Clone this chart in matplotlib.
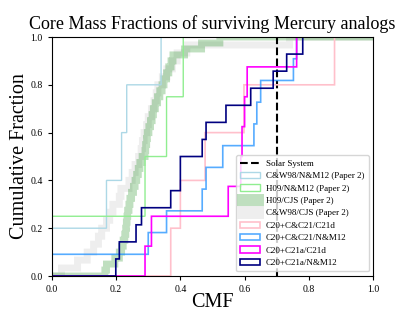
import numpy as np
import matplotlib
matplotlib.use("Agg")
import matplotlib.pyplot as plt

plt.rcParams['font.family'] = 'serif'
plt.rcParams['font.serif'] = ['Liberation Serif', 'DejaVu Serif']

# core mass fractions of surviving Mercury analogs
cw98_nm12 = [0.0, 0.17, 0.217, 0.233, 0.34]
h09_nm12 = [0.0, 0.29, 0.357, 0.41]
h09_cjs = [0.165, 0.170, 0.196, 0.210, 0.217, 0.222, 0.227, 0.230, 0.232, 0.234,
           0.237, 0.240, 0.243, 0.248, 0.254, 0.259, 0.264, 0.269, 0.274, 0.282,
           0.290, 0.292, 0.295, 0.297, 0.302, 0.307, 0.312, 0.316, 0.322, 0.329,
           0.336, 0.343, 0.350, 0.357, 0.364, 0.371, 0.377, 0.414, 0.466, 0.523]
cw98_cjs = [0.03, 0.08, 0.11, 0.13, 0.145, 0.155, 0.17, 0.18, 0.19, 0.21,
            0.215, 0.24, 0.25, 0.259, 0.27, 0.278, 0.283, 0.288, 0.295, 0.30,
            0.31, 0.318, 0.325, 0.33, 0.345, 0.358, 0.375, 0.39, 0.42, 0.74]
c20_cc21_c21d = [0.37, 0.40, 0.478, 0.598, 0.88]
c20_cc21_nm12 = [0.0, 0.30, 0.357, 0.469, 0.48, 0.532, 0.629, 0.638, 0.65, 0.752, 0.762]
c20_c21a_c21d = [0.29, 0.31, 0.549, 0.588, 0.592, 0.60, 0.608, 0.762]
c20_c21a_nm12 = [0.199, 0.21, 0.262, 0.279, 0.37, 0.40, 0.40, 0.469, 0.48, 0.542,
                 0.619, 0.69, 0.731, 0.781]
solar_cmf = 0.70

# bins run a bit past 1 so the closing drop of the step outline stays off the axes
bins = np.linspace(0, 1.05, 1051)

fig = plt.figure(figsize=(4.15, 3.11), dpi=100)
ax = fig.add_axes([0.125, 0.1125, 0.774, 0.7685])

def cdf(data, **kw):
    ax.hist(data, bins=bins, cumulative=True, density=True, histtype='step', **kw)

ax.axvline(solar_cmf, color='k', ls='--', lw=1.5, label='Solar System')
cdf(cw98_nm12, color='lightblue', lw=1, label='C&W98/N&M12 (Paper 2)')
cdf(h09_nm12, color='lightgreen', lw=1, label='H09/N&M12 (Paper 2)')
cdf(h09_cjs, color='green', alpha=0.25, lw=5, zorder=1.2, label='H09/CJS (Paper 2)')
cdf(cw98_cjs, color='#eeeeee', lw=5, zorder=1.1, label='C&W98/CJS (Paper 2)')
cdf(c20_cc21_c21d, color='pink', lw=1.2, label='C20+C&C21/C21d')
cdf(c20_cc21_nm12, color='dodgerblue', alpha=0.75, lw=1.2, label='C20+C&C21/N&M12')
cdf(c20_c21a_c21d, color='magenta', lw=1.2, label='C20+C21a/C21d')
cdf(c20_c21a_nm12, color='navy', lw=1.2, label='C20+C21a/N&M12')

ax.set_xlim(0, 1)
ax.set_ylim(0, 1)
ax.set_xticks(np.arange(0, 1.01, 0.2))
ax.set_yticks(np.arange(0, 1.01, 0.2))
ax.tick_params(labelsize=7, length=3)
ax.set_xlabel('CMF', fontsize=14.5, labelpad=-1)
ax.set_ylabel('Cumulative Fraction', fontsize=14.5, labelpad=1)
ax.set_title('Core Mass Fractions of surviving Mercury analogs', fontsize=13, pad=6)
ax.legend(loc='lower right', fontsize=6.5, handlelength=2.2, labelspacing=0.45,
          borderpad=0.5, handletextpad=0.6)

fig.savefig('out.png', dpi=100)
